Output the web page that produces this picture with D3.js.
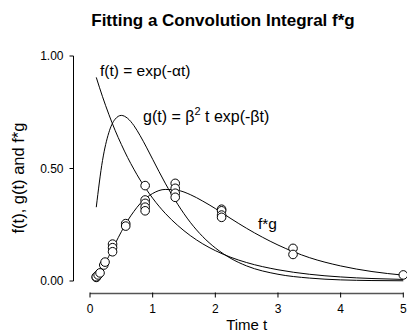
<!DOCTYPE html>
<html lang="en">
<head>
<meta charset="UTF-8">
<title>Fitting a Convolution Integral f*g</title>
<script src="https://d3js.org/d3.v7.min.js"></script>
<style>
    body { margin: 0; padding: 0; background: #fff; }
    svg { display: block; }
    text { font-family: 'Liberation Sans', Arial, sans-serif; fill: #000; }
    .title { font-size: 17px; font-weight: bold; }
    .tick-label { font-size: 12px; }
    .axis-label { font-size: 15px; }
    .note { font-size: 15.5px; }
    .curve { fill: none; stroke: #000; stroke-width: 1px; }
    .obs { fill: #fff; stroke: #000; stroke-width: 1px; }
</style>
</head>
<body>
<svg width="407" height="334"></svg>
<script>
// fitted curves at these times
var curveT = [0.1, 0.2, 0.3, 0.4, 0.5, 0.6, 0.7, 0.8, 0.9, 1.0, 1.2, 1.4, 1.6, 1.8, 2.0, 2.25, 2.5, 3.0, 3.5, 4.0, 4.5, 5.0];
var fVals  = [0.905, 0.819, 0.741, 0.670, 0.607, 0.549, 0.497, 0.449, 0.407, 0.368, 0.301, 0.247, 0.202, 0.165, 0.135, 0.105, 0.082, 0.050, 0.030, 0.018, 0.011, 0.007];
var gVals  = [0.328, 0.536, 0.659, 0.719, 0.736, 0.723, 0.691, 0.646, 0.595, 0.541, 0.435, 0.341, 0.261, 0.197, 0.147, 0.100, 0.067, 0.030, 0.013, 0.005, 0.002, 0.001];
var fgVals = [0.017, 0.058, 0.110, 0.165, 0.219, 0.268, 0.309, 0.344, 0.370, 0.389, 0.407, 0.403, 0.384, 0.355, 0.322, 0.277, 0.234, 0.160, 0.104, 0.067, 0.042, 0.026];

// observed f*g points
var obsT = [0.10, 0.10, 0.13, 0.16, 0.22, 0.24, 0.36, 0.36, 0.36, 0.57, 0.57,
            0.88, 0.88, 0.88, 0.88, 0.88, 1.36, 1.36, 1.36, 1.36,
            2.10, 2.10, 2.10, 2.10, 3.24, 3.24, 5.00];
var obsV = [0.016, 0.019, 0.027, 0.036, 0.071, 0.084, 0.164, 0.148, 0.130, 0.255, 0.244,
            0.424, 0.360, 0.345, 0.328, 0.312, 0.434, 0.412, 0.390, 0.372,
            0.319, 0.312, 0.293, 0.283, 0.145, 0.118, 0.027];

var xTicks = [0, 1, 2, 3, 4, 5];
var yTicks = [0, 0.5, 1];

var svg = d3.select("svg");

var x = d3.scaleLinear().domain([0, 5]).range([90, 403.3]);
var y = d3.scaleLinear().domain([0, 1]).range([281, 56]);

// title
svg.append("text")
    .attr("class", "title")
    .attr("x", 223).attr("y", 26)
    .attr("text-anchor", "middle")
    .text("Fitting a Convolution Integral f*g");

// y axis (offset to the left of the data)
var yAxis = svg.append("g").attr("transform", "translate(73.5,0)");
yAxis.append("line")
    .attr("x1", 0).attr("x2", 0)
    .attr("y1", y(1)).attr("y2", y(0))
    .attr("stroke", "#000");
yAxis.selectAll(".yt").data(yTicks).enter().append("line")
    .attr("x1", -4).attr("x2", 0)
    .attr("y1", function(d) { return y(d); })
    .attr("y2", function(d) { return y(d); })
    .attr("stroke", "#000");
yAxis.selectAll(".tick-label").data(yTicks).enter().append("text")
    .attr("class", "tick-label")
    .attr("x", -10)
    .attr("y", function(d) { return y(d); })
    .attr("dy", "0.35em")
    .attr("text-anchor", "end")
    .text(d3.format(".2f"));

// x axis (offset below the data)
var xAxis = svg.append("g").attr("transform", "translate(0,293.5)");
xAxis.append("line")
    .attr("x1", x(0)).attr("x2", x(5))
    .attr("y1", 0).attr("y2", 0)
    .attr("stroke", "#555").attr("stroke-width", 1.5);
xAxis.selectAll(".xt").data(xTicks).enter().append("line")
    .attr("x1", function(d) { return x(d); })
    .attr("x2", function(d) { return x(d); })
    .attr("y1", -1).attr("y2", 4)
    .attr("stroke", "#000");
xAxis.selectAll(".tick-label").data(xTicks).enter().append("text")
    .attr("class", "tick-label")
    .attr("x", function(d) { return x(d); })
    .attr("y", 15)
    .attr("dy", "0.35em")
    .attr("text-anchor", "middle")
    .text(function(d) { return d; });

svg.append("text")
    .attr("class", "axis-label")
    .attr("x", 246.7).attr("y", 330)
    .attr("text-anchor", "middle")
    .text("Time t");

svg.append("text")
    .attr("class", "axis-label")
    .attr("transform", "translate(24,178) rotate(-90)")
    .attr("text-anchor", "middle")
    .style("font-size", "16.5px")
    .text("f(t), g(t) and f*g");

// curves
var line = d3.line()
    .x(function(d) { return x(d[0]); })
    .y(function(d) { return y(d[1]); })
    .curve(d3.curveMonotoneX);

[fVals, gVals, fgVals].forEach(function(vals) {
    svg.append("path")
        .attr("class", "curve")
        .attr("d", line(d3.zip(curveT, vals)));
});

// observations
svg.selectAll(".obs")
    .data(d3.zip(obsT, obsV))
    .enter().append("circle")
    .attr("class", "obs")
    .attr("cx", function(d) { return x(d[0]); })
    .attr("cy", function(d) { return y(d[1]); })
    .attr("r", 4.3);

// curve labels
svg.append("text").attr("class", "note")
    .attr("x", 100).attr("y", 76)
    .text("f(t) = exp(-\u03b1t)");

var gl = svg.append("text").attr("class", "note")
    .attr("x", 143).attr("y", 122)
    .style("font-size", "16px");
gl.append("tspan").text("g(t) = \u03b2");
gl.append("tspan").attr("dy", -7).attr("font-size", "11px").text("2");
gl.append("tspan").attr("dy", 7).text(" t exp(-\u03b2t)");

svg.append("text").attr("class", "note")
    .attr("x", 258).attr("y", 229)
    .text("f*g");
</script>
</body>
</html>
